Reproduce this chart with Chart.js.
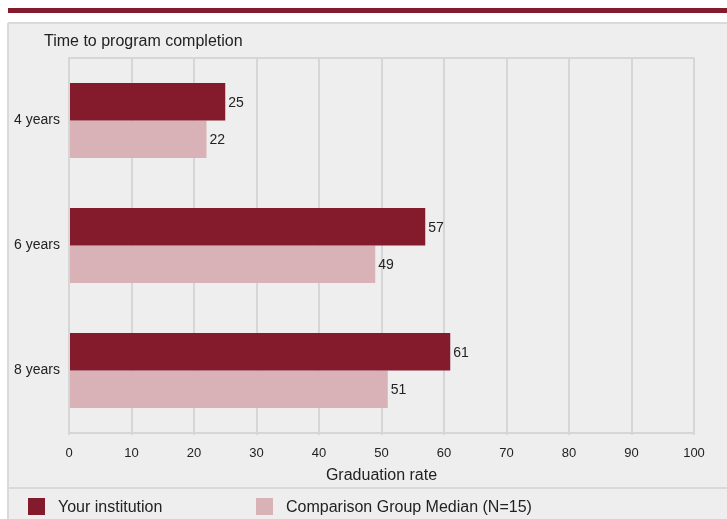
<!DOCTYPE html>
<html>
<head>
<meta charset="utf-8"/>
<style>
  html,body{margin:0;padding:0;background:#fff;}
  #wrap{position:relative;width:727px;height:519px;}
</style>
</head>
<body>
<div id="wrap"><canvas id="c" width="727" height="519"></canvas></div>
<script src="https://cdn.jsdelivr.net/npm/chart.js@4.4.0/dist/chart.umd.min.js"></script>
<script>
const categories = ["4 years", "6 years", "8 years"];
const yourInst   = [25, 57, 61];
const compMedian = [22, 49, 51];
const seriesNames = ["Your institution", "Comparison Group Median (N=15)"];
const xTicks = [0, 10, 20, 30, 40, 50, 60, 70, 80, 90, 100];

const DARK  = "#841B2D";
const LIGHT = "#D8B2B7";
const GRID  = "#D6D6D6";
const PANEL = "#EEEEEE";
const FONT  = "'Liberation Sans', Arial, sans-serif";

// panel, red strip, title, top border, legend
const decor = {
  id: "decor",
  beforeDraw(chart) {
    const c = chart.ctx;
    c.save();
    c.fillStyle = DARK;
    c.fillRect(8, 8, 719, 5);
    c.fillStyle = PANEL;
    c.fillRect(8, 23, 719, 496);
    c.strokeStyle = "#D9D9D9"; c.lineWidth = 2;
    c.beginPath();
    c.moveTo(8, 23); c.lineTo(727, 23);
    c.moveTo(8, 23); c.lineTo(8, 519);
    c.moveTo(8, 488); c.lineTo(727, 488);
    c.stroke();
    c.fillStyle = "#222";
    c.font = "16px " + FONT;
    c.textBaseline = "middle";
    c.fillText("Time to program completion", 44, 42);
    c.restore();
  },
  afterDatasetsDraw(chart) {
    const c = chart.ctx, a = chart.chartArea;
    c.save();
    c.strokeStyle = GRID; c.lineWidth = 2;
    c.beginPath(); c.moveTo(a.left - 1, a.top); c.lineTo(a.right + 1, a.top); c.stroke();
    // value labels
    c.fillStyle = "#222";
    c.font = "14px " + FONT;
    c.textBaseline = "middle";
    chart.data.datasets.forEach((ds, i) => {
      chart.getDatasetMeta(i).data.forEach((bar, j) => {
        c.fillText(ds.data[j], bar.x + 3, bar.y + 1);
      });
    });
    // legend
    c.font = "16px " + FONT;
    const lx = [28, 256];
    chart.data.datasets.forEach((ds, i) => {
      c.fillStyle = ds.backgroundColor;
      c.fillRect(lx[i], 498, 17, 17);
      c.fillStyle = "#222";
      c.fillText(ds.label, lx[i] + 30, 508);
    });
    c.restore();
  }
};

new Chart(document.getElementById("c"), {
  type: "bar",
  data: {
    labels: categories,
    datasets: [
      { label: seriesNames[0], data: yourInst,   backgroundColor: DARK,  categoryPercentage: 0.6, barPercentage: 1 },
      { label: seriesNames[1], data: compMedian, backgroundColor: LIGHT, categoryPercentage: 0.6, barPercentage: 1 }
    ]
  },
  options: {
    indexAxis: "y",
    responsive: false,
    animation: false,
    layout: { padding: { left: 0, right: 33, top: 58, bottom: 31 } },
    plugins: { legend: { display: false }, tooltip: { enabled: false } },
    scales: {
      x: {
        min: 0, max: 100,
        afterBuildTicks: s => { s.ticks = xTicks.map(v => ({ value: v })); },
        afterFit: s => { s.height = 55; },
        grid: { color: GRID, lineWidth: 2, tickLength: 2 },
        border: { color: GRID, width: 2 },
        ticks: { color: "#222", font: { family: FONT, size: 13 }, padding: 11, maxRotation: 0 },
        title: { display: true, text: "Graduation rate", color: "#222",
                 font: { family: FONT, size: 16 }, padding: { top: 0, bottom: 3 } }
      },
      y: {
        afterFit: s => { s.width = 69; },
        grid: { display: false, drawTicks: false },
        border: { display: false },
        ticks: { color: "#222", font: { family: FONT, size: 14 }, padding: 9 }
      }
    }
  },
  plugins: [decor]
});
</script>
</body>
</html>
